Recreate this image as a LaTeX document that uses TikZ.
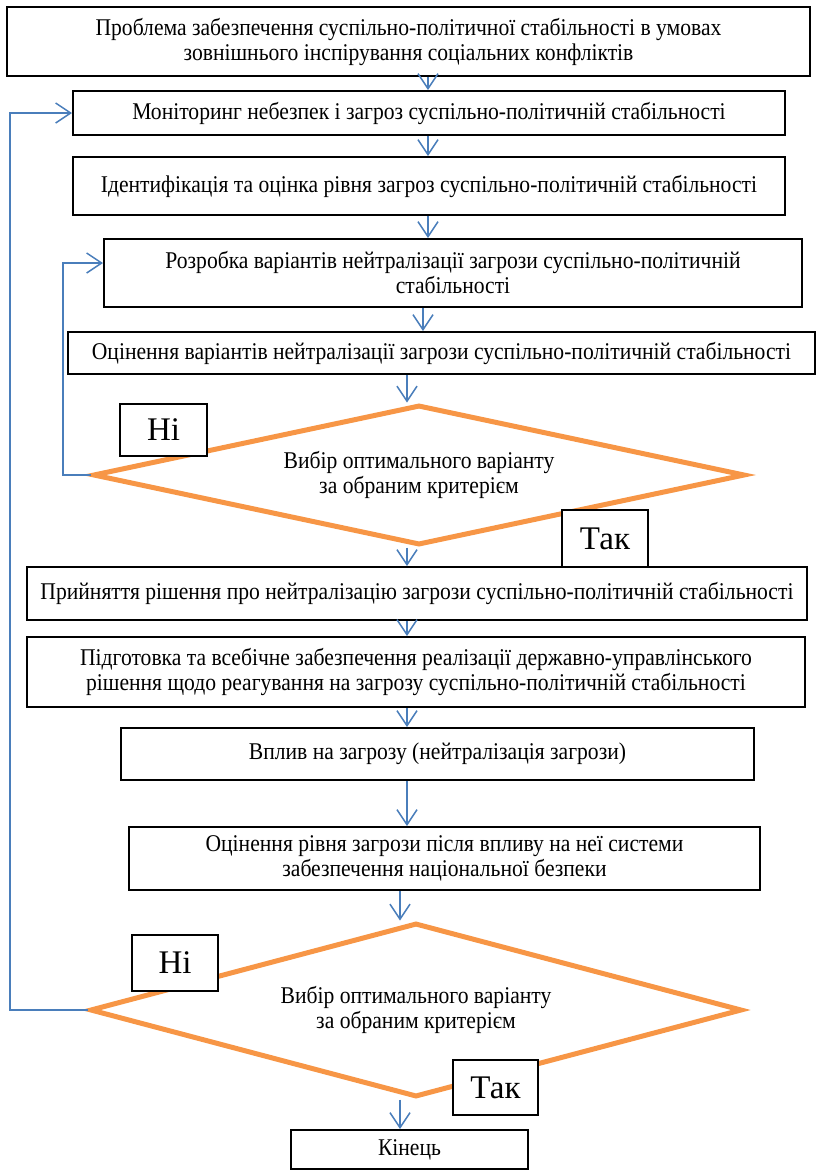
\documentclass[tikz,border=0pt]{standalone}
\usepackage{fontspec}
\setmainfont[FakeStretch=0.9]{Liberation Serif}
\newfontfamily\mitkafont{Liberation Serif}
\usetikzlibrary{shapes.geometric,arrows.meta}
\definecolor{strilka}{HTML}{4A7EBB}
\definecolor{pomaranch}{HTML}{F79646}
\tikzset{
  blok/.style={draw=black,line width=2pt,fill=white,align=center,inner sep=2pt,font=\fontsize{24}{25}\selectfont},
  romb/.style={diamond,draw=pomaranch,line width=5pt,align=center,inner sep=0pt,font=\fontsize{24}{25}\selectfont},
  mitka/.style={draw=black,line width=2pt,fill=white,font=\mitkafont\fontsize{33}{34}\selectfont},
  potik/.style={draw=strilka,line width=1.5pt,-{Straight Barb[length=15pt,width=20pt,line width=1.5pt]}},
  zvorot/.style={draw=strilka,line width=1.2pt,-{Straight Barb[length=15pt,width=20pt,line width=1.5pt]}}
}
\begin{document}
\begin{tikzpicture}[x=1pt,y=-1pt]
\useasboundingbox (0,0) rectangle (816,1171);

\node[blok,minimum width=803pt,minimum height=69pt] (problema) at (408.5,41.5)
  {Проблема забезпечення суспільно-політичної стабільності в умовах\\зовнішнього інспірування соціальних конфліктів};
\node[blok,minimum width=712pt,minimum height=44pt] (monitor) at (429,113)
  {Моніторинг небезпек і загроз суспільно-політичній стабільності};
\node[blok,minimum width=712pt,minimum height=58pt] (ident) at (429,186)
  {Ідентифікація та оцінка рівня загроз суспільно-політичній стабільності};
\node[blok,minimum width=698pt,minimum height=68pt] (rozrobka) at (453,273)
  {Розробка варіантів нейтралізації загрози суспільно-політичній\\стабільності};
\node[blok,minimum width=747pt,minimum height=42pt] (ocinka) at (441.5,353)
  {Оцінення варіантів нейтралізації загрози суспільно-політичній стабільності};
\node[romb,aspect=4.66,minimum width=652pt,minimum height=140pt] (vybir1) at (419,475)
  {Вибір оптимального варіанту\\за обраним критерієм};
\node[blok,minimum width=780pt,minimum height=53pt] (rishennia) at (417,593.5)
  {Прийняття рішення про нейтралізацію загрози суспільно-політичній стабільності};
\node[blok,minimum width=778pt,minimum height=70pt] (pidgotovka) at (416,672)
  {Підготовка та всебічне забезпечення реалізації державно-управлінського\\рішення щодо реагування на загрозу суспільно-політичній стабільності};
\node[blok,minimum width=633pt,minimum height=52pt] (vplyv) at (437.5,754)
  {Вплив на загрозу (нейтралізація загрози)};
\node[blok,minimum width=631pt,minimum height=63pt] (riven) at (444.5,858.5)
  {Оцінення рівня загрози після впливу на неї системи\\забезпечення національної безпеки};
\node[romb,aspect=3.75,minimum width=652pt,minimum height=174pt] (vybir2) at (416,1010)
  {Вибір оптимального варіанту\\за обраним критерієм};
\node[blok,minimum width=237pt,minimum height=39pt] (kinec) at (409.5,1149.5) {Кінець};

% мітки розгалужень
\node[mitka,minimum width=87pt,minimum height=52pt] (ni1) at (163.5,430) {Ні};
\node[mitka,minimum width=86pt,minimum height=57pt] (tak1) at (605,538.5) {Так};
\node[mitka,minimum width=86pt,minimum height=56pt] (ni2) at (175,963) {Ні};
\node[mitka,minimum width=85pt,minimum height=55pt] (tak2) at (495.5,1087.5) {Так};

\coordinate (kolA) at (428,0);
\coordinate (kolB) at (423,0);
\coordinate (kolC) at (407,0);
\coordinate (kolD) at (400,0);
\coordinate (petlia1) at (63,263);
\coordinate (petlia2) at (10,113);

\draw[potik] (problema.south -| kolA) -- (monitor.north -| kolA);
\draw[potik] (monitor.south -| kolA) -- (ident.north -| kolA);
\draw[potik] (ident.south -| kolA) -- (rozrobka.north -| kolA);
\draw[potik] (rozrobka.south -| kolB) -- (ocinka.north -| kolB);
\draw[potik] (ocinka.south -| kolC) -- (vybir1.north -| kolC);
\draw[potik] (vybir1.south -| kolC) -- (rishennia.north -| kolC);
\draw[potik] (rishennia.south -| kolC) -- (pidgotovka.north -| kolC);
\draw[potik] (pidgotovka.south -| kolC) -- (vplyv.north -| kolC);
\draw[potik] (vplyv.south -| kolC) -- (riven.north -| kolC);
\draw[potik] (riven.south -| kolD) -- (vybir2.north -| kolD);
\draw[potik] (vybir2.south -| kolD) -- (kinec.north -| kolD);

\draw[zvorot] (vybir1.west) -| (petlia1) -- (petlia1 -| rozrobka.west);
\draw[zvorot] (vybir2.west) -| (petlia2) -- (monitor.west);
\end{tikzpicture}
\end{document}
